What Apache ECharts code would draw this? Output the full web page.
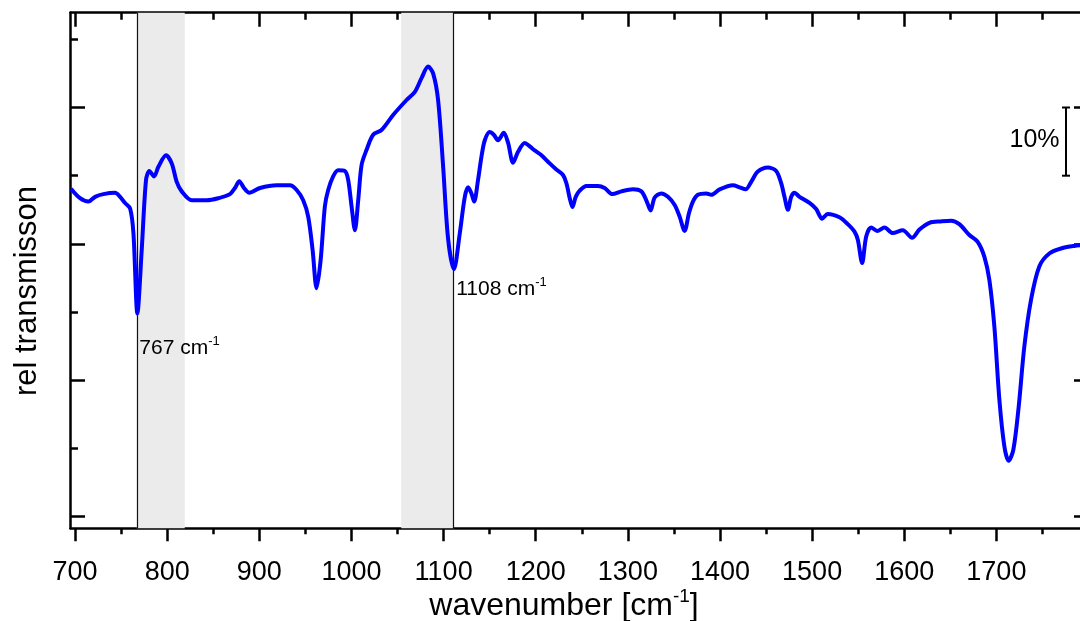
<!DOCTYPE html>
<html><head><meta charset="utf-8">
<script src="https://cdn.jsdelivr.net/npm/echarts@6/dist/echarts.min.js"></script>
<style>html,body{margin:0;padding:0;background:#fff}#c{width:1080px;height:621px}</style>
</head><body><div id="c"></div>
<script>
const wavenumber = [695.5,705.4,714.4,721.7,730.7,743.4,748.8,754.2,759.7,763.3,767.6,772.3,777.0,780.6,785.7,790.4,798.7,804.9,810.3,815.7,826.6,842.8,855.4,868.1,873.5,878.2,883.3,889.0,900.7,918.8,933.2,940.5,947.6,953.0,957.8,962.1,966.5,971.1,974.7,980.1,985.6,992.8,996.4,1000.1,1003.7,1007.3,1011.0,1016.4,1023.5,1032.6,1045.2,1059.8,1068.8,1076.0,1083.2,1088.6,1094.0,1099.5,1104.9,1111.2,1117.6,1123.0,1126.6,1130.2,1133.1,1137.4,1141.1,1144.7,1150.1,1154.4,1159.1,1165.3,1170.0,1175.4,1180.8,1188.1,1193.5,1198.9,1206.2,1215.2,1222.4,1229.6,1233.3,1236.9,1239.8,1243.4,1247.7,1255.0,1267.6,1274.8,1283.2,1292.9,1305.5,1314.6,1320.0,1324.7,1329.1,1336.3,1343.5,1350.8,1356.2,1361.6,1366.3,1370.6,1376.0,1385.1,1390.5,1399.6,1414.0,1421.3,1427.8,1433.9,1441.1,1451.9,1461.0,1466.4,1470.0,1473.7,1477.3,1480.9,1486.3,1497.2,1504.4,1510.9,1517.0,1529.7,1538.7,1546.0,1549.6,1554.3,1558.7,1564.1,1571.2,1578.5,1587.5,1598.4,1608.5,1616.5,1627.3,1640.0,1650.8,1659.8,1670.7,1679.7,1687.0,1692.4,1697.8,1703.3,1708.7,1713.3,1718.4,1724.2,1730.3,1737.6,1746.6,1757.5,1771.9,1784.6,1800];
const transmission = [48.1,46.7,46.2,46.9,47.3,47.5,46.9,46.0,45.2,41.6,29.8,39.1,49.4,50.7,49.9,51.3,53.0,51.8,49.1,47.7,46.4,46.4,46.7,47.3,48.2,49.2,48.2,47.5,48.2,48.6,48.6,47.9,46.4,44.0,39.1,33.5,37.6,45.5,47.9,49.9,50.8,50.7,49.4,45.5,42.0,46.4,51.6,53.8,56.0,56.7,58.9,61.1,62.3,64.3,66.0,65.0,61.1,51.3,40.7,36.3,41.6,46.9,48.3,47.4,46.2,49.4,52.8,55.2,56.4,56.0,55.2,56.3,54.8,51.9,53.5,54.8,54.3,53.7,53.0,51.8,50.9,50.1,48.9,46.7,45.4,46.9,47.8,48.5,48.5,48.2,47.3,47.7,48.0,47.7,46.4,44.9,46.8,47.4,46.9,45.7,44.0,41.9,44.5,46.2,47.2,47.4,47.2,48.0,48.6,48.3,48.0,49.1,50.6,51.2,50.7,48.9,46.9,45.0,46.9,47.5,46.9,46.0,45.1,43.7,44.4,43.9,42.9,41.8,40.6,37.2,41.1,42.4,41.9,42.4,41.6,42.0,40.9,42.1,43.1,43.3,43.4,42.9,41.3,40.3,38.1,34.7,27.9,17.1,10.3,8.2,9.8,16.1,24.9,31.8,36.7,38.6,39.4,39.7,39.9];

const xMajorTicks = [700,800,900,1000,1100,1200,1300,1400,1500,1600,1700,1800];
const xTickLabels = [700,800,900,1000,1100,1200,1300,1400,1500,1600,1700];
const xMinorTicks = [750,850,950,1050,1150,1250,1350,1450,1550,1650,1750];
const yMajorTicks = [0,20,40,60];
const yMinorTicks = [10,30,50,70];
const highlightBands = [[767,819],[1054,1111]];
const peakLines = [767,1111];
const peakLabelText = ['767','1108'];
const peakLabelY = [24.9,33.6];
const scaleBarRange = [50,60];
const scaleBarX = 1775.6;
const scaleBarText = '10%';

const X_MIN = 695, X_MAX = 1800, Y_MIN = -1.7, Y_MAX = 73.9;
const FONT = "'Liberation Sans', Arial, Helvetica, sans-serif";
const AX = {color:'#000', width:2.5};

function xAx(pos, ticks, len, inside, line, labels) {
  return {
    type:'value', min:X_MIN, max:X_MAX, position:pos,
    axisLine:{show:line, onZero:false, lineStyle:AX},
    axisTick:{show:true, inside:inside, length:len, customValues:ticks, lineStyle:AX},
    axisLabel: labels ? {show:true, customValues:labels, formatter:v=>String(v), fontSize:27, color:'#000', margin:31, fontFamily:FONT} : {show:false},
    splitLine:{show:false}
  };
}
function yAx(pos, ticks, len, line) {
  return {
    type:'value', min:Y_MIN, max:Y_MAX, position:pos,
    axisLine:{show:line, onZero:false, lineStyle:AX},
    axisTick:{show:true, inside:true, length:len, customValues:ticks, lineStyle:AX},
    axisLabel:{show:false}, splitLine:{show:false}
  };
}

const chart = echarts.init(document.getElementById('c'), null, {renderer:'canvas'});
chart.setOption({
  animation:false,
  backgroundColor:'#fff',
  grid:{left:70.5, top:12.7, width:1018, height:515.6, containLabel:false, outerBoundsMode:'none'},
  xAxis:[
    xAx('bottom', xMajorTicks, 13, false, true, xTickLabels),
    xAx('bottom', xMinorTicks, 6, false, false, null),
    xAx('top', xMajorTicks, 14, true, true, null),
    xAx('top', xMinorTicks, 7, true, false, null)
  ],
  yAxis:[
    yAx('left', yMajorTicks, 14.5, true),
    yAx('left', yMinorTicks, 7.5, false),
    yAx('right', yMajorTicks, 14.5, true),
    yAx('right', yMinorTicks, 7.5, false)
  ],
  series:[{
    type:'line', xAxisIndex:0, yAxisIndex:0,
    data: wavenumber.map((w,i)=>[w, transmission[i]]),
    showSymbol:false, smooth:0.3,
    lineStyle:{color:'#0000ff', width:4},
    z:5,
    markArea:{silent:true, itemStyle:{color:'#ebebeb'},
      data: highlightBands.map(b=>[{xAxis:b[0]},{xAxis:b[1]}])},
    markLine:{silent:true, symbol:'none', label:{show:false},
      lineStyle:{color:'#111', width:1.2, type:'solid'},
      data: peakLines.map(v=>({xAxis:v}))}
  }]
});

const P = (x,y)=>chart.convertToPixel({xAxisIndex:0, yAxisIndex:0}, [x,y]);
const graphics = [];
peakLines.forEach((v,i)=>{
  const p = P(v, peakLabelY[i]);
  graphics.push({type:'text', x:p[0]+2.5, y:p[1], z:20, style:{
    text:'{a|'+peakLabelText[i]+' cm}{s|-1}', rich:{
      a:{fontSize:21, fontFamily:FONT, fill:'#000', lineHeight:24, verticalAlign:'bottom'},
      s:{fontSize:13, fontFamily:FONT, fill:'#000', lineHeight:15, verticalAlign:'top'}},
    align:'left', verticalAlign:'middle'}});
});
const barTop = P(scaleBarX, scaleBarRange[1]), barBot = P(scaleBarX, scaleBarRange[0]);
graphics.push({type:'line', z:20, shape:{x1:barTop[0], y1:barTop[1], x2:barBot[0], y2:barBot[1]}, style:{stroke:'#000', lineWidth:2}});
graphics.push({type:'line', z:20, shape:{x1:barTop[0]-4, y1:barTop[1], x2:barTop[0]+4, y2:barTop[1]}, style:{stroke:'#000', lineWidth:2}});
graphics.push({type:'line', z:20, shape:{x1:barBot[0]-4, y1:barBot[1], x2:barBot[0]+4, y2:barBot[1]}, style:{stroke:'#000', lineWidth:2}});
graphics.push({type:'text', z:20, x:barTop[0]-6.5, y:(barTop[1]+barBot[1])/2 - 1.5, style:{text:scaleBarText, fontSize:25, fontFamily:FONT, fill:'#000', align:'right', verticalAlign:'middle'}});
graphics.push({type:'text', z:20, x:564, y:605, style:{
  text:'{a|wavenumber [cm}{s|-1}{a|]}', rich:{
    a:{fontSize:32, fontFamily:FONT, fill:'#000', lineHeight:35, verticalAlign:'bottom'},
    s:{fontSize:19, fontFamily:FONT, fill:'#000', lineHeight:23, verticalAlign:'top'}},
  align:'center', verticalAlign:'middle'}});
graphics.push({type:'text', z:20, x:27, y:291, rotation:Math.PI/2, style:{
  text:'rel transmisson', fontSize:31, fontFamily:FONT, fill:'#000', align:'center', verticalAlign:'middle'}});
chart.setOption({graphic:graphics});
</script></body></html>
